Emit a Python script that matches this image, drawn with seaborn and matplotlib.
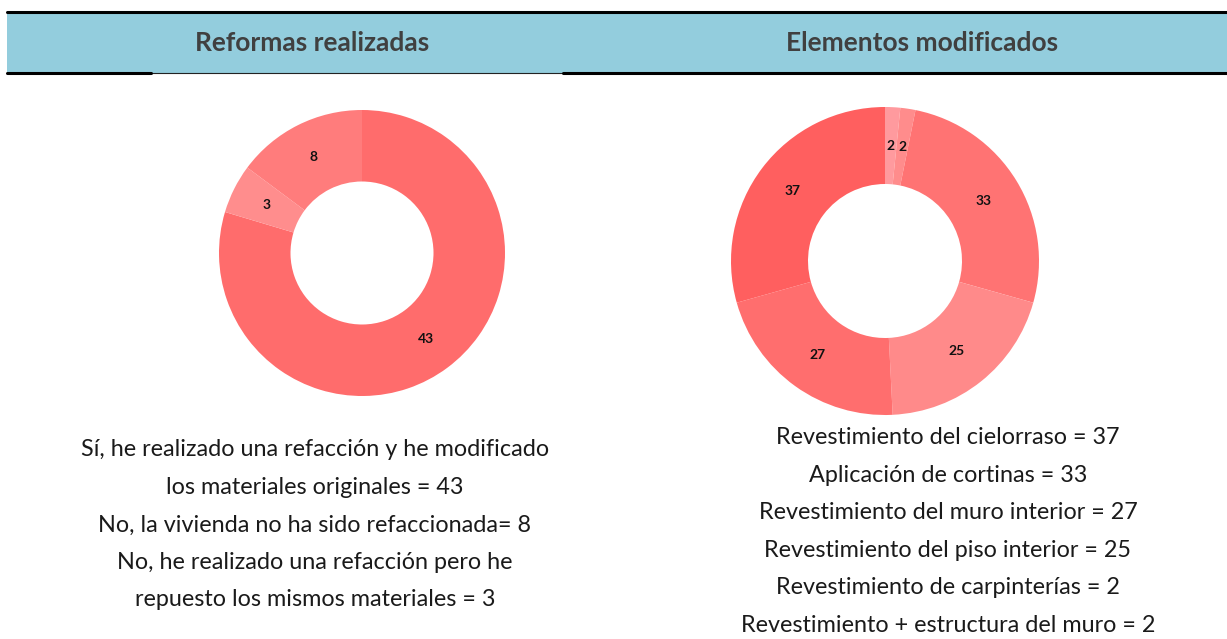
import numpy as np
import pandas as pd
import seaborn as sns
import matplotlib.pyplot as plt
from matplotlib.patches import Rectangle

sns.set_theme(style="white")
plt.rcParams['font.family'] = ['Lato', 'DejaVu Sans']

# data
reformas_vals = [43, 3, 8]
reformas_colors = ['#FF6C6C', '#FF8D8D', '#FF7C7C']
reformas_text = ['Sí, he realizado una refacción y he modificado',
                 'los materiales originales = 43',
                 'No, la vivienda no ha sido refaccionada= 8',
                 'No, he realizado una refacción pero he',
                 'repuesto los mismos materiales = 3']

elementos_vals = [2, 2, 33, 25, 27, 37]
elementos_colors = ['#FF9A9E', '#FF8C8C', '#FF7373', '#FF8A8A', '#FF6E6E', '#FF5F5F']
elementos_text = ['Revestimiento del cielorraso = 37',
                  'Aplicación de cortinas = 33',
                  'Revestimiento del muro interior = 27',
                  'Revestimiento del piso interior = 25',
                  'Revestimiento de carpinterías = 2',
                  'Revestimiento + estructura del muro = 2']

titles = ['Reformas realizadas', 'Elementos modificados']

W, H = 1227, 639
fig = plt.figure(figsize=(W / 100, H / 100), dpi=100)

# background axis in pixel coords
bg = fig.add_axes([0, 0, 1, 1])
bg.set_xlim(0, W)
bg.set_ylim(H, 0)
bg.axis('off')

bg.add_patch(Rectangle((7, 12), W - 7, 61, color='#93CDDD', lw=0))
bg.plot([7, W], [12, 12], color='black', lw=2.2)
bg.plot([7, W], [73, 73], color='#222222', lw=0.8)
bg.plot([7, 151], [73, 73], color='black', lw=2.2)
bg.plot([563, W], [73, 73], color='black', lw=2.2)

bg.text(312, 43, titles[0], ha='center', va='center', fontsize=19,
        fontweight='bold', color='#404040')
bg.text(922, 43, titles[1], ha='center', va='center', fontsize=19,
        fontweight='bold', color='#404040')

for i, line in enumerate(reformas_text):
    bg.text(315, 450 + i * 37.5, line, ha='center', va='center',
            fontsize=16.8, color='#1a1a1a')
for i, line in enumerate(elementos_text):
    bg.text(948, 438 + i * 37.4, line, ha='center', va='center',
            fontsize=16.8, color='#1a1a1a')


def donut(cx, cy, r, vals, colors):
    ax = fig.add_axes([(cx - r) / W, (H - cy - r) / H, 2 * r / W, 2 * r / H])
    total = sum(vals)
    ax.pie(vals, colors=colors, startangle=90, counterclock=False, radius=1,
           wedgeprops=dict(width=0.5, linewidth=0),
           autopct=lambda p: f"{round(p * total / 100)}", pctdistance=0.75,
           textprops=dict(fontsize=10, fontweight='bold', color='#111111'))
    ax.set_xlim(-1, 1)
    ax.set_ylim(-1, 1)
    ax.set_aspect('equal')
    ax.axis('off')


donut(362, 253, 143, reformas_vals, reformas_colors)
donut(885, 261, 154, elementos_vals, elementos_colors)

fig.savefig('out.png', dpi=100)
